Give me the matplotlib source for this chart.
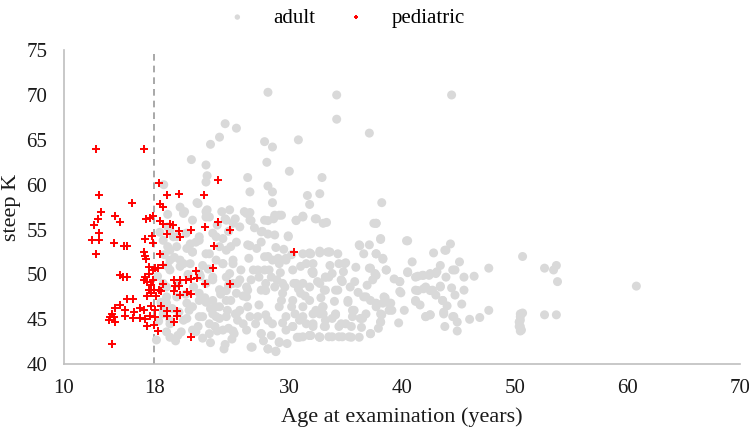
import matplotlib
matplotlib.use('Agg')
import matplotlib.pyplot as plt

# ── data (age in years, steep K) ────────────────────────────────────────────
ped_age = [12.8, 17.1, 18.4, 23.7, 13.1, 19.1, 20.2, 22.4, 16.0, 18.5, 18.8, 13.3,
           14.5, 13.0, 15.0, 12.7, 17.3, 17.6, 17.9, 18.5, 18.8, 19.4, 19.7, 23.7,
           22.5, 21.3, 24.7, 13.1, 12.5, 13.1, 14.4, 15.3, 15.6, 17.2, 17.8, 17.9,
           19.1, 20.2, 20.3, 12.8, 17.1, 17.2, 17.3, 18.5, 23.3, 21.7, 23.2, 15.0,
           15.25, 15.6, 17.55, 18.05, 18.8, 17.2, 17.55, 17.9, 18.3, 17.1, 17.4, 17.7,
           17.9, 19.8, 20.3, 20.85, 21.3, 21.8, 22.5, 24.7, 18.8, 19.85, 20.2, 18.4,
           17.5, 18.0, 18.6, 19.8, 17.7, 17.4, 18.2, 20.9, 21.3, 20.3, 15.6, 16.1,
           15.0, 18.6, 17.7, 16.7, 17.1, 14.5, 15.4, 16.2, 14.25, 14.07, 14.4, 15.4,
           16.1, 16.7, 17.2, 17.6, 18.1, 18.1, 19.1, 20.0, 19.1, 20.0, 14.0, 14.5,
           17.4, 18.0, 19.8, 18.3, 21.3, 14.3, 30.4]
ped_k = [64.0, 64.0, 60.2, 60.5, 58.8, 58.8, 59.0, 58.8, 58.0, 57.8, 57.5, 57.0,
         56.5, 56.2, 55.8, 55.5, 56.2, 56.3, 56.5, 56.0, 55.65, 55.65, 55.5, 55.8,
         55.3, 55.0, 55.0, 54.6, 53.8, 53.8, 53.5, 53.2, 53.2, 54.0, 54.3, 53.5,
         54.5, 54.8, 54.2, 52.3, 52.5, 52.1, 51.7, 52.3, 53.2, 50.4, 50.7, 49.9,
         49.67, 49.7, 50.8, 50.67, 51.0, 49.7, 50.0, 50.5, 50.7, 49.4, 49.15, 48.85,
         49.4, 49.4, 49.4, 49.4, 49.5, 49.55, 48.96, 48.96, 48.9, 48.7, 48.7, 48.3,
         48.25, 48.3, 48.2, 48.2, 47.9, 47.6, 47.6, 48.0, 47.8, 47.7, 47.3, 47.3,
         46.6, 46.5, 46.5, 46.3, 46.0, 46.25, 46.0, 45.8, 45.6, 45.3, 45.3, 45.4,
         45.1, 45.2, 45.0, 45.4, 45.3, 46.0, 45.9, 45.9, 45.35, 45.4, 44.9, 44.7,
         44.2, 44.4, 44.65, 43.7, 43.0, 42.2, 52.5]

adult_age = [28.1, 24.3, 25.3, 23.8, 23.0, 27.8, 28.5, 30.8, 21.3, 22.6, 28.0, 30.0,
             22.7, 22.6, 18.85, 26.3, 28.1, 28.5, 26.5, 32.9, 31.6, 32.7, 28.5, 31.8,
             21.8, 20.3, 20.7, 22.6, 22.7, 24.7, 26.0, 26.5, 19.2, 22.6, 24.3, 25.2,
             26.6, 28.1, 28.6, 29.3, 31.2, 30.6, 32.4, 33.3, 27.6, 28.1, 29.9, 26.5,
             24.1, 25.0, 25.6, 20.0, 19.2, 21.4, 22.6, 19.4, 20.3, 25.0, 27.8, 28.5,
             29.7, 31.8, 32.7, 33.4, 18.2, 19.1, 20.1, 21.7, 23.0, 23.6, 24.3, 24.2,
             25.0, 26.7, 27.5, 28.1, 28.8, 29.1, 30.3, 30.9, 31.8, 32.7, 27.3, 27.9,
             26.5, 25.3, 23.8, 22.9, 22.0, 20.9, 19.4, 18.8, 19.1, 20.0, 20.9, 22.6,
             23.5, 24.4, 25.3, 26.2, 27.9, 29.4, 30.3, 31.2, 32.1, 32.95, 29.1, 29.7,
             30.9, 32.1, 33.2, 19.1, 19.4, 20.3, 21.2, 22.0, 23.2, 24.1, 24.7, 25.6,
             26.8, 27.3, 28.2, 29.1, 30.3, 31.5, 32.1, 32.7, 33.2, 29.4, 30.6, 27.9,
             26.2, 23.8, 22.0, 21.4, 23.2, 24.4, 25.9, 27.0, 28.5, 29.7, 25.0, 22.6,
             20.0, 21.2, 22.0, 23.2, 19.4, 18.8,
             34.2, 44.4, 34.2, 37.1, 32.3, 33.0, 38.2, 37.7, 38.1, 40.4, 36.25, 37.1,
             36.6, 37.7, 38.3, 38.6, 37.2, 37.4, 37.6, 33.6, 34.3, 32.7, 31.8, 35.0,
             34.4, 32.1, 32.0, 33.8, 33.2, 34.7, 35.8, 34.3, 33.2, 31.8, 31.8, 33.0,
             32.7, 31.2, 32.1, 31.2, 31.8, 32.7, 33.8, 34.7, 35.5, 36.2, 33.2, 33.8,
             34.4, 35.0, 35.6, 36.3, 34.1, 35.2, 35.75, 36.8, 37.2, 37.7, 38.3, 38.85,
             38.5, 39.1, 38.2, 38.1, 37.2, 36.8, 39.8, 39.9, 40.5, 41.2, 41.2, 41.2,
             41.8, 42.4, 43.0, 43.4, 43.9, 44.7, 45.5, 43.9, 42.1, 42.7, 43.0, 43.4,
             44.4, 44.7, 45.5, 43.6, 43.7, 43.8, 42.1, 42.5, 44.6, 44.9, 44.9, 46.0,
             46.9, 47.7, 47.7, 50.7, 50.5, 50.5, 50.5, 50.6, 52.65, 52.65,
             53.45, 53.7, 53.8, 60.8, 50.7, 50.5, 50.4, 50.4, 50.5, 53.7,
             21.9, 20.6, 21.4, 22.9, 24.0, 24.4, 19.7, 20.85, 22.0, 23.5, 19.4, 21.4,
             22.9, 23.8, 19.2, 20.6, 22.3, 24.1, 18.8, 23.2, 24.4, 19.1, 22.0, 23.2,
             23.8, 21.1, 19.4, 20.6, 22.3, 23.5, 21.4, 22.9, 24.1, 19.4, 18.8, 24.4,
             24.4,
             26.2, 26.5, 27.8, 28.7, 29.1, 30.6, 27.5, 28.7, 29.9, 26.3, 24.8, 25.0,
             28.1, 29.0, 29.7, 27.8, 27.2, 28.4, 26.6, 26.3, 27.5, 28.7, 29.6, 30.4,
             31.0, 29.3, 30.2, 24.8, 24.5, 25.4, 27.2, 28.1, 25.1, 27.5, 26.6, 28.1,
             28.8, 29.1, 30.3, 30.7, 26.3, 25.4, 25.7, 31.0,
             31.2, 37.5, 36.2, 31.2, 31.9, 33.5, 34.9, 37.1, 32.1, 33.5, 34.6, 31.2,
             33.1, 34.1, 35.2, 36.6, 32.35, 33.0, 34.1, 35.6, 36.5, 31.5, 33.1, 34.6,
             35.5, 31.9, 32.65, 33.5, 34.4, 35.3, 37.2,
             37.7, 38.1, 37.7, 38.3, 38.6, 37.7, 40.5, 43.8, 40.5, 39.8, 39.8, 41.4,
             41.9, 42.5, 43.1, 44.5, 41.4, 41.9, 42.5, 43.4, 43.6, 43.7, 41.2, 42.1,
             42.5, 44.5, 38.4, 39.0, 38.85, 38.1, 38.1, 37.7,
             19.6, 20.2, 20.8, 21.5, 22.1, 22.8, 23.5, 21.0, 20.1, 19.8, 20.9, 21.7,
             22.5, 23.0, 23.9, 24.6, 23.4, 24.6, 21.9, 20.4, 19.9, 22.3, 24.9, 25.6,
             25.9, 26.4, 27.1, 25.3, 24.6, 23.6, 26.9, 27.5, 28.8, 29.5, 30.2, 29.2,
             28.9, 30.8, 30.5, 29.4, 28.4, 27.7, 26.2, 25.2, 29.8, 32.5, 33.6, 34.8,
             35.9, 36.1, 35.4, 34.0, 32.8, 31.4, 36.4, 37.9, 36.9, 39.3, 40.9, 40.2,
             39.7, 41.6, 44.0, 45.3, 46.4, 45.1, 42.8, 44.3,
             18.4, 18.6, 18.3, 18.9, 18.5, 19.2]
adult_k = [70.3, 66.8, 66.3, 65.3, 64.5, 64.8, 64.2, 65.0, 62.8, 62.2, 62.5, 61.5,
           61.0, 60.3, 60.0, 60.8, 59.85, 59.2, 59.2, 60.8, 58.8, 59.0, 58.0, 57.8,
           58.0, 57.5, 57.0, 57.0, 57.2, 57.2, 57.0, 56.9, 56.7, 56.4, 56.2, 56.2,
           56.0, 56.0, 56.2, 56.6, 56.5, 56.0, 56.2, 55.8, 54.8, 54.5, 54.3, 53.2,
           54.0, 55.7, 55.3, 53.1, 53.1, 52.5, 52.3, 51.6, 51.6, 51.6, 51.97, 51.6,
           51.6, 52.4, 52.4, 52.5, 42.7, 43.6, 43.2, 43.6, 42.4, 43.7, 42.2, 41.7,
           43.7, 41.9, 43.4, 41.7, 41.45, 42.4, 44.2, 43.0, 43.2, 43.0, 46.6, 45.5,
           45.3, 45.6, 45.1, 44.5, 45.3, 45.1, 44.5, 45.6, 46.8, 47.5, 46.8, 46.9,
           46.4, 47.1, 47.9, 47.5, 48.2, 47.9, 47.1, 46.4, 45.6, 46.4, 46.4, 45.3,
           44.9, 44.5, 44.9, 48.6, 50.5, 50.9, 51.2, 50.1, 49.7, 51.2, 50.1, 49.4,
           50.5, 49.7, 50.5, 51.2, 50.5, 51.2, 50.1, 49.0, 49.7, 49.0, 49.0, 49.0,
           48.6, 48.3, 47.9, 46.4, 45.6, 45.3, 44.5, 44.5, 44.5, 43.8, 49.0, 49.0,
           54.2, 53.4, 54.2, 54.6, 54.9, 53.8,
           70.0, 70.0, 67.3, 65.75, 56.2, 55.7, 58.0, 55.7, 53.9, 53.75, 53.2, 53.3,
           52.3, 52.3, 51.7, 50.5, 50.7, 49.4, 50.1, 52.5, 52.3, 52.6, 52.3, 51.3,
           51.2, 51.2, 50.3, 50.1, 49.7, 49.2, 49.2, 48.25, 48.25, 48.6, 47.1, 46.4,
           45.6, 45.3, 44.2, 43.05, 43.2, 43.0, 43.05, 43.05, 43.0, 43.0, 44.2, 45.1,
           44.2, 44.5, 45.3, 45.1, 45.6, 46.9, 46.0, 47.5, 47.1, 46.4, 46.8, 46.8,
           47.4, 46.0, 45.5, 44.7, 43.4, 45.6, 49.2, 47.95, 50.2, 49.7, 48.25, 47.0,
           49.9, 49.9, 50.1, 51.0, 52.7, 50.5, 49.7, 49.7, 48.6, 48.25, 47.7, 48.7,
           48.5, 47.7, 48.25, 47.1, 45.8, 44.2, 45.3, 45.5, 45.3, 44.7, 43.7, 45.0,
           45.2, 46.0, 50.7, 52.0, 45.6, 44.9, 44.2, 43.8, 50.7, 45.5,
           50.5, 51.0, 49.2, 48.7, 45.7, 45.3, 44.7, 44.2, 43.7, 45.5,
           57.9, 56.8, 56.05, 56.4, 57.0, 56.05, 54.2, 54.6, 53.8, 54.2, 52.7, 52.5,
           52.3, 53.1, 50.9, 51.2, 51.0, 51.2, 49.0, 49.4, 48.2, 47.5, 47.1, 47.1,
           46.4, 46.0, 44.9, 44.9, 45.3, 45.3, 43.8, 43.4, 43.8, 43.0, 46.0, 49.7,
           52.7,
           56.8, 56.05, 56.05, 56.6, 56.6, 56.05, 54.75, 54.4, 54.2, 53.3, 53.1, 51.2,
           52.0, 51.8, 51.8, 50.5, 50.5, 49.7, 49.4, 48.25, 48.25, 48.6, 48.6, 49.0,
           47.9, 47.1, 46.4, 47.1, 46.0, 44.9, 45.3, 44.9, 43.4, 43.4, 41.9, 41.7,
           41.4, 42.5, 44.2, 43.0, 46.4, 49.0, 50.5, 50.9,
           56.4, 55.7, 53.3, 52.3, 52.3, 52.5, 51.2, 50.7, 50.3, 49.7, 49.4, 49.0,
           48.25, 48.25, 47.1, 47.5, 46.0, 45.6, 45.5, 46.0, 45.1, 44.5, 44.2, 44.5,
           44.2, 43.2, 43.05, 43.05, 43.05, 43.05, 43.4,
           55.7, 54.0, 52.3, 51.8, 50.5, 49.9, 53.75, 52.7, 50.3, 49.2, 48.1, 49.8,
           49.9, 50.1, 50.3, 50.5, 48.2, 48.4, 48.2, 48.6, 47.1, 45.6, 47.1, 45.3,
           45.5, 45.3, 47.5, 46.8, 46.0, 45.6, 44.7, 46.8,
           46.2, 45.8, 47.8, 48.6, 49.8, 50.6, 51.6, 50.0, 49.0, 51.9, 52.9, 53.6,
           47.4, 46.2, 47.8, 48.8, 44.2, 44.0, 44.2, 43.6, 42.6, 42.9, 42.8, 46.0,
           47.6, 51.8, 52.9, 53.6, 54.8, 55.5, 55.2, 53.6, 53.0, 52.8, 52.2, 50.2,
           49.4, 48.4, 45.6, 44.6, 43.2, 42.6, 43.8, 45.6, 42.3, 49.2, 51.0, 50.3,
           50.8, 48.0, 48.6, 47.0, 47.4, 47.6, 44.1, 44.0, 48.8, 49.5, 51.4, 46.0,
           44.6, 46.6, 46.5, 46.7, 49.8, 51.4, 52.4, 53.4,
           44.8, 46.9, 49.8, 52.2, 54.7, 55.3]

x_ticks = [10, 18, 30, 40, 50, 60, 70]
y_ticks = [40, 45, 50, 55, 60, 65, 70, 75]
cutoff_age = 18

GREY = '#d9d9d9'
SPINE = '#bfbfbf'

plt.rcParams['font.family'] = ['Liberation Serif', 'DejaVu Serif']

fig = plt.figure(figsize=(7.49, 4.32), dpi=100)
ax = fig.add_axes([0.0855, 0.157, 0.9025, 0.727])

ax.scatter(adult_age, adult_k, s=42, color=GREY, edgecolors='none',
           label='adult', zorder=2)
ax.scatter(ped_age, ped_k, s=34, marker='+', color='#ff0000', linewidths=1.4,
           label='pediatric', zorder=3)
ax.plot([cutoff_age, cutoff_age], [40, 75], color='#999999', lw=1.2,
        ls=(0, (4, 3)), zorder=1)

ax.set_xlim(10, 70)
ax.set_ylim(40, 75)
ax.set_xticks(x_ticks)
ax.set_yticks(y_ticks)
ax.tick_params(length=0, labelsize=15, colors='#1a1a1a')
ax.tick_params(axis='x', pad=11)
ax.tick_params(axis='y', pad=12)
for side in ('top', 'right'):
    ax.spines[side].set_visible(False)
for side in ('left', 'bottom'):
    ax.spines[side].set_color(SPINE)
    ax.spines[side].set_linewidth(1.2)

ax.set_xlabel('Age at examination (years)', fontsize=16, labelpad=6, color='#1a1a1a')
ax.set_ylabel('steep K', fontsize=16, labelpad=4, color='#1a1a1a')

fig.legend(loc='upper center', bbox_to_anchor=(0.455, 1.025), ncol=2, frameon=False,
           fontsize=15, handletextpad=0.7, columnspacing=1.0, markerscale=0.6)

fig.savefig('out.png', dpi=100, facecolor='white')
